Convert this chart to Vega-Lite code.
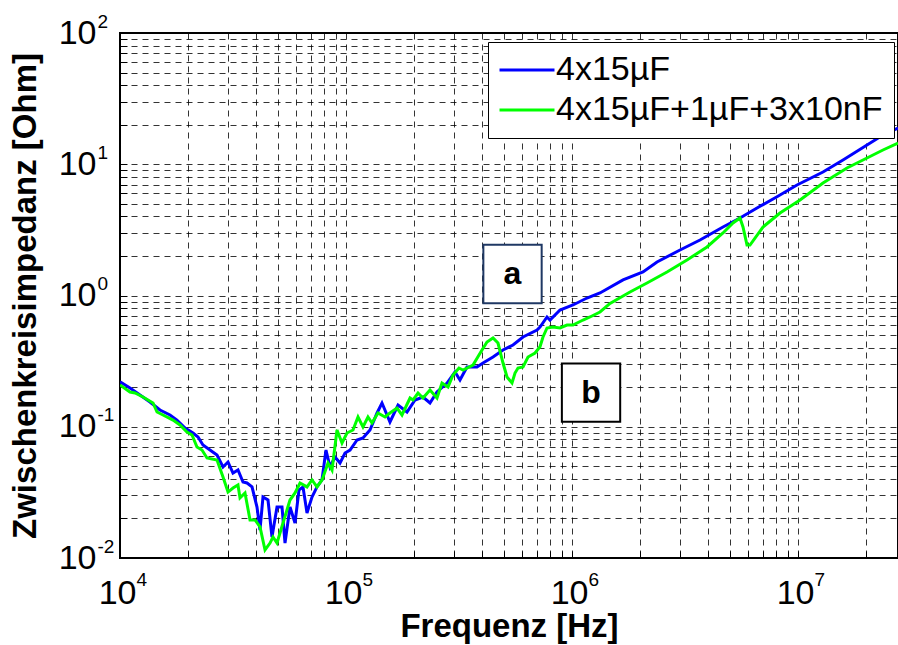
{
  "$schema": "https://vega.github.io/schema/vega-lite/v6.json",
  "width": 778,
  "height": 525,
  "autosize": {"type": "none"},
  "padding": {"left": 120, "top": 33, "right": 0, "bottom": 87},
  "background": "white",
  "config": {"view": {"stroke": "#000", "strokeWidth": 2}, "font": "Liberation Sans"},
  "datasets": {
    "curves": [
      {"f":10000,"z":0.2204,"s":"4x15µF"},{"f":11070,"z":0.1973,"s":"4x15µF"},{"f":12260,"z":0.1745,"s":"4x15µF"},{"f":13570,"z":0.1544,"s":"4x15µF"},{"f":15030,"z":0.1341,"s":"4x15µF"},{"f":16640,"z":0.1229,"s":"4x15µF"},{"f":17870,"z":0.1125,"s":"4x15µF"},{"f":19400,"z":0.0978,"s":"4x15µF"},{"f":21040,"z":0.0896,"s":"4x15µF"},{"f":22140,"z":0.0835,"s":"4x15µF"},{"f":23290,"z":0.0726,"s":"4x15µF"},{"f":25010,"z":0.0665,"s":"4x15µF"},{"f":26870,"z":0.0609,"s":"4x15µF"},{"f":28560,"z":0.0494,"s":"4x15µF"},{"f":30060,"z":0.0539,"s":"4x15µF"},{"f":31620,"z":0.0444,"s":"4x15µF"},{"f":33270,"z":0.0468,"s":"4x15µF"},{"f":35010,"z":0.0379,"s":"4x15µF"},{"f":36470,"z":0.0373,"s":"4x15µF"},{"f":38380,"z":0.0348,"s":"4x15µF"},{"f":40380,"z":0.02446,"s":"4x15µF"},{"f":41640,"z":0.01635,"s":"4x15µF"},{"f":42920,"z":0.02916,"s":"4x15µF"},{"f":45170,"z":0.02766,"s":"4x15µF"},{"f":47050,"z":0.01445,"s":"4x15µF"},{"f":49510,"z":0.02446,"s":"4x15µF"},{"f":52100,"z":0.02446,"s":"4x15µF"},{"f":53720,"z":0.013,"s":"4x15µF"},{"f":56520,"z":0.02446,"s":"4x15µF"},{"f":59480,"z":0.01848,"s":"4x15µF"},{"f":61950,"z":0.033,"s":"4x15µF"},{"f":64520,"z":0.0348,"s":"4x15µF"},{"f":67210,"z":0.02203,"s":"4x15µF"},{"f":70720,"z":0.02916,"s":"4x15µF"},{"f":74410,"z":0.0348,"s":"4x15µF"},{"f":78300,"z":0.0393,"s":"4x15µF"},{"f":81550,"z":0.0665,"s":"4x15µF"},{"f":84940,"z":0.0494,"s":"4x15µF"},{"f":89390,"z":0.0588,"s":"4x15µF"},{"f":94080,"z":0.0529,"s":"4x15µF"},{"f":98990,"z":0.0631,"s":"4x15µF"},{"f":104200,"z":0.0665,"s":"4x15µF"},{"f":111900,"z":0.0793,"s":"4x15µF"},{"f":118900,"z":0.0821,"s":"4x15µF"},{"f":127700,"z":0.0945,"s":"4x15µF"},{"f":137200,"z":0.1273,"s":"4x15µF"},{"f":144300,"z":0.1517,"s":"4x15µF"},{"f":156500,"z":0.1087,"s":"4x15µF"},{"f":169900,"z":0.1464,"s":"4x15µF"},{"f":186200,"z":0.1295,"s":"4x15µF"},{"f":202000,"z":0.1599,"s":"4x15µF"},{"f":219100,"z":0.1685,"s":"4x15µF"},{"f":235300,"z":0.1517,"s":"4x15µF"},{"f":252700,"z":0.184,"s":"4x15µF"},{"f":279900,"z":0.2154,"s":"4x15µF"},{"f":303600,"z":0.2614,"s":"4x15µF"},{"f":319400,"z":0.2271,"s":"4x15µF"},{"f":343000,"z":0.2852,"s":"4x15µF"},{"f":379800,"z":0.2852,"s":"4x15µF"},{"f":403800,"z":0.3059,"s":"4x15µF"},{"f":447200,"z":0.3399,"s":"4x15µF"},{"f":495100,"z":0.3844,"s":"4x15µF"},{"f":548300,"z":0.4196,"s":"4x15µF"},{"f":607100,"z":0.4829,"s":"4x15µF"},{"f":700000,"z":0.5461,"s":"4x15µF"},{"f":721800,"z":0.5754,"s":"4x15µF"},{"f":775200,"z":0.6859,"s":"4x15µF"},{"f":799100,"z":0.6506,"s":"4x15µF"},{"f":885100,"z":0.7753,"s":"4x15µF"},{"f":1010000,"z":0.8465,"s":"4x15µF"},{"f":1165000,"z":0.9571,"s":"4x15µF"},{"f":1330000,"z":1.045,"s":"4x15µF"},{"f":1682000,"z":1.313,"s":"4x15µF"},{"f":2062000,"z":1.51,"s":"4x15µF"},{"f":2378000,"z":1.8,"s":"4x15µF"},{"f":3006000,"z":2.222,"s":"4x15µF"},{"f":3685000,"z":2.648,"s":"4x15µF"},{"f":4657000,"z":3.326,"s":"4x15µF"},{"f":5538000,"z":3.895,"s":"4x15µF"},{"f":6585000,"z":4.642,"s":"4x15µF"},{"f":8075000,"z":5.655,"s":"4x15µF"},{"f":9899000,"z":6.95,"s":"4x15µF"},{"f":12900000,"z":8.73,"s":"4x15µF"},{"f":15820000,"z":10.78,"s":"4x15µF"},{"f":20200000,"z":14.02,"s":"4x15µF"},{"f":23770000,"z":16.71,"s":"4x15µF"},{"f":27700000,"z":18.89,"s":"4x15µF"},
      {"f":10000,"z":0.208,"s":"4x15µF+1µF+3x10nF"},{"f":11070,"z":0.184,"s":"4x15µF+1µF+3x10nF"},{"f":11650,"z":0.1807,"s":"4x15µF+1µF+3x10nF"},{"f":12640,"z":0.1685,"s":"4x15µF+1µF+3x10nF"},{"f":14000,"z":0.1517,"s":"4x15µF+1µF+3x10nF"},{"f":14580,"z":0.1295,"s":"4x15µF+1µF+3x10nF"},{"f":15500,"z":0.1229,"s":"4x15µF+1µF+3x10nF"},{"f":17160,"z":0.1125,"s":"4x15µF+1µF+3x10nF"},{"f":18430,"z":0.1031,"s":"4x15µF+1µF+3x10nF"},{"f":19790,"z":0.0912,"s":"4x15µF+1µF+3x10nF"},{"f":20830,"z":0.0865,"s":"4x15µF+1µF+3x10nF"},{"f":21910,"z":0.0701,"s":"4x15µF+1µF+3x10nF"},{"f":23060,"z":0.0665,"s":"4x15µF+1µF+3x10nF"},{"f":24270,"z":0.0578,"s":"4x15µF+1µF+3x10nF"},{"f":26870,"z":0.0558,"s":"4x15µF+1µF+3x10nF"},{"f":28560,"z":0.0414,"s":"4x15µF+1µF+3x10nF"},{"f":30060,"z":0.0318,"s":"4x15µF+1µF+3x10nF"},{"f":31620,"z":0.0341,"s":"4x15µF+1µF+3x10nF"},{"f":33270,"z":0.036,"s":"4x15µF+1µF+3x10nF"},{"f":33960,"z":0.0287,"s":"4x15µF+1µF+3x10nF"},{"f":35740,"z":0.0313,"s":"4x15µF+1µF+3x10nF"},{"f":37610,"z":0.0195,"s":"4x15µF+1µF+3x10nF"},{"f":39570,"z":0.0195,"s":"4x15µF+1µF+3x10nF"},{"f":41640,"z":0.01723,"s":"4x15µF+1µF+3x10nF"},{"f":43820,"z":0.01151,"s":"4x15µF+1µF+3x10nF"},{"f":46110,"z":0.013,"s":"4x15µF+1µF+3x10nF"},{"f":47530,"z":0.01445,"s":"4x15µF+1µF+3x10nF"},{"f":49510,"z":0.013,"s":"4x15µF+1µF+3x10nF"},{"f":52630,"z":0.01848,"s":"4x15µF+1µF+3x10nF"},{"f":56520,"z":0.02766,"s":"4x15µF+1µF+3x10nF"},{"f":59480,"z":0.0313,"s":"4x15µF+1µF+3x10nF"},{"f":62590,"z":0.0373,"s":"4x15µF+1µF+3x10nF"},{"f":67210,"z":0.0348,"s":"4x15µF+1µF+3x10nF"},{"f":70720,"z":0.0393,"s":"4x15µF+1µF+3x10nF"},{"f":74410,"z":0.0348,"s":"4x15µF+1µF+3x10nF"},{"f":78300,"z":0.0393,"s":"4x15µF+1µF+3x10nF"},{"f":83250,"z":0.0529,"s":"4x15µF+1µF+3x10nF"},{"f":86720,"z":0.0468,"s":"4x15µF+1µF+3x10nF"},{"f":91250,"z":0.0945,"s":"4x15µF+1µF+3x10nF"},{"f":96010,"z":0.0752,"s":"4x15µF+1µF+3x10nF"},{"f":101000,"z":0.0896,"s":"4x15µF+1µF+3x10nF"},{"f":107400,"z":0.0945,"s":"4x15µF+1µF+3x10nF"},{"f":113000,"z":0.1187,"s":"4x15µF+1µF+3x10nF"},{"f":118900,"z":0.0996,"s":"4x15µF+1µF+3x10nF"},{"f":125100,"z":0.1187,"s":"4x15µF+1µF+3x10nF"},{"f":130300,"z":0.1068,"s":"4x15µF+1µF+3x10nF"},{"f":138500,"z":0.1273,"s":"4x15µF+1µF+3x10nF"},{"f":148800,"z":0.1187,"s":"4x15µF+1µF+3x10nF"},{"f":156500,"z":0.1273,"s":"4x15µF+1µF+3x10nF"},{"f":168100,"z":0.1389,"s":"4x15µF+1µF+3x10nF"},{"f":176900,"z":0.1229,"s":"4x15µF+1µF+3x10nF"},{"f":192000,"z":0.1656,"s":"4x15µF+1µF+3x10nF"},{"f":198000,"z":0.1599,"s":"4x15µF+1µF+3x10nF"},{"f":208300,"z":0.1807,"s":"4x15µF+1µF+3x10nF"},{"f":219100,"z":0.1656,"s":"4x15µF+1µF+3x10nF"},{"f":235300,"z":0.1905,"s":"4x15µF+1µF+3x10nF"},{"f":252700,"z":0.1656,"s":"4x15µF+1µF+3x10nF"},{"f":265900,"z":0.2154,"s":"4x15µF+1µF+3x10nF"},{"f":282800,"z":0.2009,"s":"4x15µF+1µF+3x10nF"},{"f":297500,"z":0.2479,"s":"4x15µF+1µF+3x10nF"},{"f":316200,"z":0.2803,"s":"4x15µF+1µF+3x10nF"},{"f":329400,"z":0.2706,"s":"4x15µF+1µF+3x10nF"},{"f":364700,"z":0.2954,"s":"4x15µF+1µF+3x10nF"},{"f":399700,"z":0.3844,"s":"4x15µF+1µF+3x10nF"},{"f":420600,"z":0.4422,"s":"4x15µF+1µF+3x10nF"},{"f":447200,"z":0.4746,"s":"4x15µF+1µF+3x10nF"},{"f":470500,"z":0.4345,"s":"4x15µF+1µF+3x10nF"},{"f":495100,"z":0.3059,"s":"4x15µF+1µF+3x10nF"},{"f":515700,"z":0.2393,"s":"4x15µF+1µF+3x10nF"},{"f":542700,"z":0.2154,"s":"4x15µF+1µF+3x10nF"},{"f":559500,"z":0.2567,"s":"4x15µF+1µF+3x10nF"},{"f":576900,"z":0.2803,"s":"4x15µF+1µF+3x10nF"},{"f":607100,"z":0.2852,"s":"4x15µF+1µF+3x10nF"},{"f":638800,"z":0.3399,"s":"4x15µF+1µF+3x10nF"},{"f":686000,"z":0.3646,"s":"4x15µF+1µF+3x10nF"},{"f":721800,"z":0.4068,"s":"4x15µF+1µF+3x10nF"},{"f":744100,"z":0.4829,"s":"4x15µF+1µF+3x10nF"},{"f":775200,"z":0.5654,"s":"4x15µF+1µF+3x10nF"},{"f":824000,"z":0.5754,"s":"4x15µF+1µF+3x10nF"},{"f":885100,"z":0.5654,"s":"4x15µF+1µF+3x10nF"},{"f":950400,"z":0.5959,"s":"4x15µF+1µF+3x10nF"},{"f":1010000,"z":0.5959,"s":"4x15µF+1µF+3x10nF"},{"f":1119000,"z":0.6506,"s":"4x15µF+1µF+3x10nF"},{"f":1201000,"z":0.6859,"s":"4x15µF+1µF+3x10nF"},{"f":1330000,"z":0.7485,"s":"4x15µF+1µF+3x10nF"},{"f":1473000,"z":0.87,"s":"4x15µF+1µF+3x10nF"},{"f":1806000,"z":1.063,"s":"4x15µF+1µF+3x10nF"},{"f":2147000,"z":1.245,"s":"4x15µF+1µF+3x10nF"},{"f":2633000,"z":1.51,"s":"4x15µF+1µF+3x10nF"},{"f":3227000,"z":1.864,"s":"4x15µF+1µF+3x10nF"},{"f":3957000,"z":2.342,"s":"4x15µF+1µF+3x10nF"},{"f":4657000,"z":2.994,"s":"4x15µF+1µF+3x10nF"},{"f":5157000,"z":3.568,"s":"4x15µF+1µF+3x10nF"},{"f":5538000,"z":3.895,"s":"4x15µF+1µF+3x10nF"},{"f":5710000,"z":3.326,"s":"4x15µF+1µF+3x10nF"},{"f":5948000,"z":2.425,"s":"4x15µF+1µF+3x10nF"},{"f":6132000,"z":2.425,"s":"4x15µF+1µF+3x10nF"},{"f":7000000,"z":3.326,"s":"4x15µF+1µF+3x10nF"},{"f":8325000,"z":4.252,"s":"4x15µF+1µF+3x10nF"},{"f":10210000,"z":5.341,"s":"4x15µF+1µF+3x10nF"},{"f":12900000,"z":7.197,"s":"4x15µF+1µF+3x10nF"},{"f":16470000,"z":9.363,"s":"4x15µF+1µF+3x10nF"},{"f":20200000,"z":11.16,"s":"4x15µF+1µF+3x10nF"},{"f":23770000,"z":12.84,"s":"4x15µF+1µF+3x10nF"},{"f":27700000,"z":14.52,"s":"4x15µF+1µF+3x10nF"}
    ],
    "notes": [
      {"x": 545500, "y": 1.458, "label": "a"},
      {"x": 1214000, "y": 0.1817, "label": "b"}
    ]
  },
  "layer": [
    {
      "data": {"name": "curves"},
      "mark": {"type": "line", "strokeWidth": 3, "clip": true},
      "encoding": {
        "x": {
          "field": "f", "type": "quantitative",
          "scale": {"type": "log", "domain": [10000, 27700000], "nice": false},
          "axis": {
            "orient": "bottom",
            "values": [10000,20000,30000,40000,50000,60000,70000,80000,90000,100000,200000,300000,400000,500000,600000,700000,800000,900000,1000000,2000000,3000000,4000000,5000000,6000000,7000000,8000000,9000000,10000000,20000000],
            "grid": true, "gridDash": [6, 5], "gridColor": "#000", "gridOpacity": 0.8, "gridWidth": 1,
            "domain": false,
            "ticks": true, "tickSize": -7, "tickColor": "#000", "tickWidth": 1,
            "labelExpr": "abs(log(datum.value)/LN10 - round(log(datum.value)/LN10)) < 0.01 ? '10' : ''",
            "labelFont": "Liberation Sans", "labelFontSize": 34, "labelColor": "#000",
            "labelAlign": "right", "labelOffset": 16, "labelBaseline": "top", "labelPadding": 25,
            "labelOverlap": false, "labelFlush": false, "labelBound": false,
            "title": "Frequenz [Hz]", "titleFont": "Liberation Sans", "titleFontSize": 33, "titleFontWeight": "bold", "titleColor": "#000", "titlePadding": 0
          }
        },
        "y": {
          "field": "z", "type": "quantitative",
          "scale": {"type": "log", "domain": [0.01, 100], "nice": false},
          "axis": {
            "orient": "left",
            "values": [0.01,0.02,0.03,0.04,0.05,0.06,0.07,0.08,0.09,0.1,0.2,0.3,0.4,0.5,0.6,0.7,0.8,0.9,1,2,3,4,5,6,7,8,9,10,20,30,40,50,60,70,80,90,100],
            "grid": true, "gridDash": [6, 5], "gridColor": "#000", "gridOpacity": 0.8, "gridWidth": 1,
            "domain": false,
            "ticks": true, "tickSize": -7, "tickColor": "#000", "tickWidth": 1,
            "labelExpr": "abs(log(datum.value)/LN10 - round(log(datum.value)/LN10)) < 0.01 ? '10' : ''",
            "labelFont": "Liberation Sans", "labelFontSize": 34, "labelColor": "#000",
            "labelAlign": "right", "labelBaseline": "middle", "labelPadding": 31,
            "labelOverlap": false, "labelFlush": false, "labelBound": false,
            "title": "Zwischenkreisimpedanz [Ohm]", "titleFont": "Liberation Sans", "titleFontSize": 33, "titleFontWeight": "bold", "titleColor": "#000", "titlePadding": 16
          }
        },
        "color": {
          "field": "s", "type": "nominal",
          "scale": {"domain": ["4x15µF", "4x15µF+1µF+3x10nF"], "range": ["#0000FF", "#00FF00"]},
          "legend": {
            "title": null, "orient": "none", "legendX": 368, "legendY": 9,
            "fillColor": "#FFFFFF", "strokeColor": "#000", "padding": 11,
            "labelFont": "Liberation Sans", "labelFontSize": 34, "labelColor": "#000", "labelLimit": 600,
            "symbolType": "M-2,0H2", "symbolSize": 756, "symbolStrokeWidth": 3, "symbolOffset": 11,
            "rowPadding": 6, "labelOffset": 12
          }
        }
      }
    },
    {
      "data": {"name": "curves"},
      "mark": {"type": "point", "opacity": 0},
      "encoding": {
        "x": {
          "field": "f", "type": "quantitative",
          "scale": {"type": "log", "domain": [10000, 27700000], "nice": false},
          "axis": {
            "orient": "bottom", "values": [10000, 100000, 1000000, 10000000],
            "grid": false, "domain": false, "ticks": false, "tickSize": 0,
            "labelExpr": "'' + round(log(datum.value)/LN10)",
            "labelFont": "Liberation Sans", "labelFontSize": 19, "labelColor": "#000",
            "labelAlign": "left", "labelOffset": 16, "labelBaseline": "top", "labelPadding": 12,
            "labelOverlap": false, "labelFlush": false, "labelBound": false, "title": null
          }
        },
        "y": {
          "field": "z", "type": "quantitative",
          "scale": {"type": "log", "domain": [0.01, 100], "nice": false},
          "axis": {
            "orient": "left", "values": [0.01, 0.1, 1, 10, 100],
            "grid": false, "domain": false, "ticks": false, "tickSize": 0,
            "labelExpr": "'' + round(log(datum.value)/LN10)",
            "labelFont": "Liberation Sans", "labelFontSize": 19, "labelColor": "#000",
            "labelAlign": "left", "labelBaseline": "top", "labelOffset": -21, "labelPadding": 23,
            "labelOverlap": false, "labelFlush": false, "labelBound": false, "title": null
          }
        }
      }
    },
    {
      "data": {"name": "notes"},
      "mark": {"type": "point", "shape": "square", "size": 3400, "filled": true, "fill": "#FFFFFF", "strokeWidth": 2, "opacity": 1},
      "encoding": {
        "x": {"field": "x", "type": "quantitative", "scale": {"type": "log", "domain": [10000, 27700000], "nice": false}, "axis": null},
        "y": {"field": "y", "type": "quantitative", "scale": {"type": "log", "domain": [0.01, 100], "nice": false}, "axis": null},
        "stroke": {"condition": {"test": "datum.label === 'a'", "value": "#1F3864"}, "value": "#000000"}
      }
    },
    {
      "data": {"name": "notes"},
      "mark": {"type": "text", "font": "Liberation Sans", "fontSize": 32, "fontWeight": "bold", "align": "center", "baseline": "middle", "color": "#000"},
      "encoding": {
        "x": {"field": "x", "type": "quantitative", "scale": {"type": "log", "domain": [10000, 27700000], "nice": false}, "axis": null},
        "y": {"field": "y", "type": "quantitative", "scale": {"type": "log", "domain": [0.01, 100], "nice": false}, "axis": null},
        "text": {"field": "label"}
      }
    }
  ],
  "resolve": {"axis": {"x": "independent", "y": "independent"}}
}
